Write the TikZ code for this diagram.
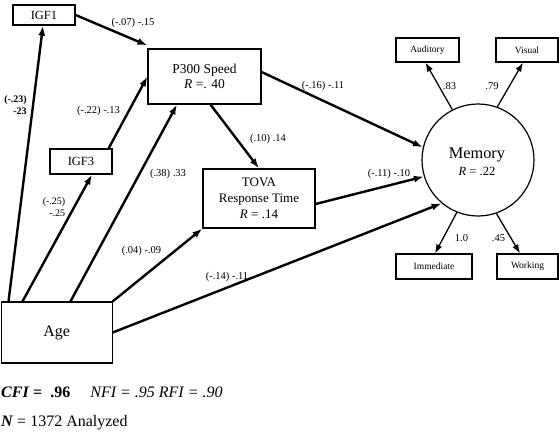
\documentclass[tikz,border=0pt]{standalone}
\usepackage{fontspec}
\setmainfont{Liberation Serif}
\usetikzlibrary{arrows.meta}
\begin{document}
\begin{tikzpicture}[x=1pt,y=-1pt,
  box/.style={draw,line width=1.2pt,rectangle,inner sep=0pt,align=center},
  mbox/.style={box,font=\fontsize{9.5}{11}\selectfont},
  path/.style={line width=2.4pt,-{Latex[length=10pt,width=7pt]}},
  load/.style={line width=1.3pt,-{Latex[length=9pt,width=6.5pt]}},
  lab/.style={inner sep=0pt,font=\fontsize{10.5}{12}\selectfont},
  blab/.style={inner sep=0pt,align=right,font=\fontsize{10}{12}\selectfont\bfseries},
  fit/.style={inner sep=0pt,anchor=west,font=\fontsize{16}{18}\selectfont}]
\useasboundingbox (0,0) rectangle (559,440);
% nodes
\node[box,minimum width=62pt,minimum height=20pt,font=\fontsize{12.5}{14}\selectfont] (igf1) at (44,15) {IGF1};
\node[box,minimum width=62pt,minimum height=25pt,font=\fontsize{12.5}{14}\selectfont] (igf3) at (81,161.5) {IGF3};
\node[box,minimum width=113pt,minimum height=55pt,font=\fontsize{13.5}{15}\selectfont] (p300) at (204.5,76.5) {P300 Speed\\\textit{R} =. 40};
\node[box,minimum width=112pt,minimum height=59pt,font=\fontsize{13}{16}\selectfont] (tova) at (259,198.5) {TOVA\\Response Time\\\textit{R} = .14};
\node[box,minimum width=111pt,minimum height=61pt,font=\fontsize{16}{18}\selectfont] (age) at (56.6,332.5) {Age};
\node[draw,circle,line width=1.2pt,minimum size=112pt,inner sep=0pt] (mem) at (478,160) {};
\node[inner sep=0pt,font=\fontsize{16.3}{18}\selectfont] (memt) at (477,155) {Memory};
\node[inner sep=0pt,font=\fontsize{12.5}{14}\selectfont] (memr) at (477,171) {\textit{R} = .22};
\node[mbox,minimum width=63pt,minimum height=24pt] (aud) at (427.5,50) {Auditory};
\node[mbox,minimum width=62pt,minimum height=24pt] (vis) at (527,50) {Visual};
\node[mbox,minimum width=76pt,minimum height=25pt] (imm) at (434,266.5) {Immediate};
\node[mbox,minimum width=61pt,minimum height=25pt] (work) at (527.5,266.5) {Working};
% structural paths
\draw[path] ([xshift=8pt]age.north west) -- ([xshift=-1pt]igf1.south);
\draw[path] ([xshift=22pt]age.north west) -- ([xshift=11pt]igf3.south);
\draw[path] ([xshift=70pt]age.north west) -- ([xshift=-27.5pt]p300.south);
\draw[path] (age.north east) -- (tova.south west);
\draw[path] (age.east) -- (mem.230);
\draw[path] (igf1.east) -- ([yshift=3pt]p300.north west);
\draw[path] ([xshift=-4pt]igf3.north east) -- (p300.west);
\draw[path] ([xshift=6pt]p300.south) -- (tova.north);
\draw[path] ([yshift=4.5pt]p300.east) -- (mem.167);
\draw[path] ([yshift=-5.5pt]tova.east) -- (mem.197);
% measurement paths
\draw[load] (mem.117) -- ([xshift=-2pt]aud.south);
\draw[load] (mem.70) -- ([xshift=-4pt]vis.south);
\draw[load] (mem.248) -- ([xshift=1pt]imm.north);
\draw[load] (mem.289) -- ([xshift=-7.5pt]work.north);
% labels
\node[lab] (l1) at (133,23) {(-.07) -.15};
\node[blab] (l2) at (15.5,105) {(-.23)\\-23};
\node[lab] (l3) at (98.5,111) {(-.22) -.13};
\node[lab,align=right,font=\fontsize{10}{12}\selectfont] (l4) at (54,207) {(-.25)\\-.25};
\node[lab] (l5) at (168,174) {(.38) .33};
\node[lab] (l6) at (268,139) {(.10) .14};
\node[lab] (l7) at (141.5,251) {(.04) -.09};
\node[lab] (l8) at (227,277) {(-.14) -.11};
\node[lab] (l9) at (323,86) {(-.16) -.11};
\node[lab] (l10) at (389,174) {(-.11) -.10};
\node[lab] (l11) at (449.5,86) {.83};
\node[lab] (l12) at (492,86) {.79};
\node[lab] (l13) at (461.5,238) {1.0};
\node[lab] (l14) at (498.5,238) {.45};
% fit indices
\node[fit] (fit1) at (1,392) {\textbf{\textit{CFI} =\ \ .96}\quad\ \textit{NFI = .95 RFI = .90}};
\node[fit] (fit2) at (1,423) {\textbf{\textit{N}} = 1372 Analyzed};
\end{tikzpicture}
\end{document}
